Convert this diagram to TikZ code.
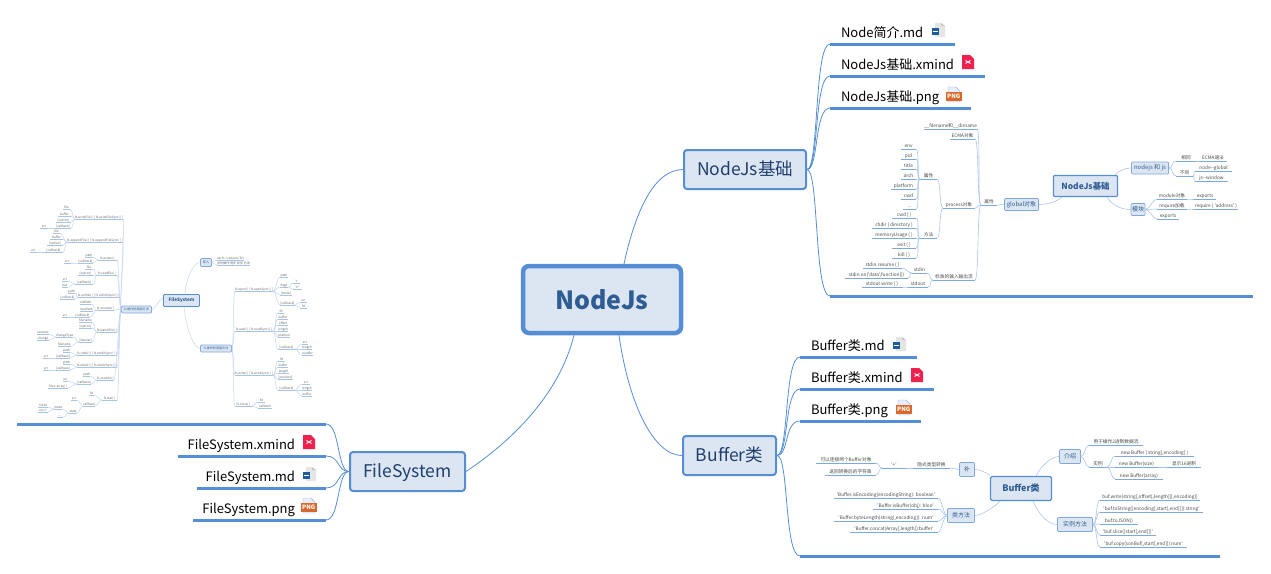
\documentclass[tikz,border=0pt]{standalone}
\usepackage{fontspec}
\newfontfamily\nodefont{Noto Sans CJK SC}
\newcommand{\fsz}[1]{\nodefont\fontsize{#1}{#1}\selectfont}
\newcommand{\tdots}{.{}.{}.}
\definecolor{mapblue}{HTML}{558ED5}
\definecolor{mapfill}{HTML}{DCE6F2}
\definecolor{boxtext}{HTML}{1F3F6E}
\definecolor{roottext}{HTML}{2F5C92}
\definecolor{inline}{HTML}{7FA8DC}
\definecolor{inlink}{HTML}{A9C5EA}
\definecolor{fsline}{HTML}{A6C3E8}
\definecolor{fslink}{HTML}{C3D6F0}
\definecolor{mdblue}{HTML}{1B5E9E}
\definecolor{xmindred}{HTML}{F0204F}
\definecolor{pngorange}{HTML}{D9682A}
\definecolor{pngpage}{HTML}{E6EFF9}
\tikzset{
  bigbox/.style={draw=mapblue, fill=mapfill, rounded corners=3pt, line width=2pt, inner sep=0pt, text=boxtext, font=\fsz{17.5}, text height=16pt, text depth=4pt, minimum height=39pt},
  rootbox/.style={draw=mapblue, fill=mapfill, line width=4.5pt, rounded corners=6pt, inner sep=0pt, text=roottext, font=\fsz{25}\bfseries},
  inroot/.style={draw=mapblue, fill=mapfill, rounded corners=1pt, line width=1.1pt, inner sep=0pt, text=roottext, font=\fsz{8.4}\bfseries},
  inbox/.style={draw=inline, fill=mapfill, rounded corners=1pt, line width=.7pt, inner sep=0pt, text=roottext, font=\fsz{6}},
  bigleaf/.style={anchor=south west, inner xsep=0pt, inner ysep=2.5pt, outer sep=0pt, text depth=4pt, font=\fsz{13}, text=black,
    append after command={(\tikzlastnode.south west) edge[mapblue, line width=3pt] (\tikzlastnode.south east)}},
  leaf/.style={anchor=south west, inner xsep=0pt, inner ysep=.6pt, outer sep=0pt, text depth=1pt, font=\fsz{4.7}, text=black!72,
    append after command={(\tikzlastnode.south west) edge[inline, line width=.9pt] (\tikzlastnode.south east)}},
  fsleaf/.style={anchor=south west, inner xsep=0pt, inner ysep=.4pt, outer sep=0pt, text depth=.6pt, font=\fsz{3.1}, text=black!62,
    append after command={(\tikzlastnode.south west) edge[fsline, line width=.7pt] (\tikzlastnode.south east)}},
  biglink/.style={mapblue, line width=.8pt},
  link/.style={inlink, line width=.6pt},
  fslinked/.style={fslink, line width=.5pt},
  mdicon/.pic={
    \fill[black!10] (4,0) -- (10,0) -- (14,3) -- (14,14) -- (4,14) -- cycle;
    \fill[black!22] (10,0) -- (14,3) -- (10,3) -- cycle;
    \fill[mdblue] (.7,5) rectangle (8,12);
    \fill[white] (2.2,7.5) rectangle (6.5,9);
  },
  xmindicon/.pic={
    \fill[xmindred] (0,0) -- (8,0) -- (12,4) -- (12,14) -- (0,14) -- cycle;
    \draw[white, line width=.9pt] (3.5,5.5) -- (8.5,8.5) (8.5,5.5) -- (3.5,8.5);
  },
  pngicon/.pic={
    \fill[pngpage] (2,0) -- (10,0) -- (14,4) -- (14,15) -- (2,15) -- cycle;
    \draw[blue!35, line width=.4pt] (2,0) -- (10,0) -- (14,4) -- (14,15) -- (2,15) -- cycle;
    \fill[pngorange] (0,5) rectangle (15.5,13.5);
    \node[inner sep=0pt, text=white, font=\fsz{6}\bfseries] (pnglabel) at (7.7,9.2) {PNG};
  },
}

\begin{document}
\begin{tikzpicture}[x=1pt, y=-1pt]
  \useasboundingbox (0,0) rectangle (1271,573);

  \node[rootbox, minimum width=158pt, minimum height=67pt] (root) at (602,299.5) {NodeJs};
  \node[bigbox, minimum width=122pt] (ndbase) at (745,169.5) {NodeJs基础};
  \node[bigbox, minimum width=93pt] (bufbase) at (729.5,455.5) {Buffer类};
  \node[bigbox, minimum width=115pt] (fsbase) at (407.5,471.5) {FileSystem};

  \node[bigleaf, text width=125pt] (ndmd) at (830,44) {\hspace*{11pt}Node简介.md};
  \node[bigleaf, text width=155pt] (ndxmind) at (830,76) {\hspace*{11pt}NodeJs基础.xmind};
  \node[bigleaf, text width=141pt] (ndpng) at (830,108) {\hspace*{11pt}NodeJs基础.png};
  \node[bigleaf, minimum width=423pt] (ndmap) at (830,296) {};
  \node[bigleaf, text width=117pt] (bufmd) at (800,357) {\hspace*{11pt}Buffer类.md};
  \node[bigleaf, text width=134pt] (bufxmind) at (800,389) {\hspace*{11pt}Buffer类.xmind};
  \node[bigleaf, text width=121pt] (bufpng) at (800,421) {\hspace*{11pt}Buffer类.png};
  \node[bigleaf, minimum width=420pt] (bufmap) at (800,556) {};
  \node[bigleaf, minimum width=309pt] (fsmap) at (17,424) {};
  \node[bigleaf, text width=148pt, align=right] (fsxmind) at (178,456) {FileSystem.xmind\hspace*{31pt}};
  \node[bigleaf, text width=129pt, align=right] (fsmd) at (197,488) {FileSystem.md\hspace*{31pt}};
  \node[bigleaf, text width=133pt, align=right] (fspng) at (193,520) {FileSystem.png\hspace*{31pt}};

  \pic at (931,23) {mdicon};
  \pic at (962,55) {xmindicon};
  \pic at (946,87) {pngicon};
  \pic at (892,337) {mdicon};
  \pic at (911,368) {xmindicon};
  \pic at (896,400) {pngicon};
  \pic at (303,435) {xmindicon};
  \pic at (302,467) {mdicon};
  \pic at (301,498) {pngicon};

  \draw[biglink] ([xshift=22pt]root.north) .. controls +(12,-55) and +(-28,0) .. (ndbase.west);
  \draw[biglink] ([xshift=17pt]root.south) .. controls +(10,70) and +(-28,0) .. (bufbase.west);
  \draw[biglink] ([xshift=-28pt]root.south) .. controls +(-15,60) and +(45,-30) .. (fsbase.east);
  \foreach \a/\b in {ndbase/ndmd, ndbase/ndxmind, ndbase/ndpng, ndbase/ndmap, bufbase/bufmd, bufbase/bufxmind, bufbase/bufpng, bufbase/bufmap}
    \draw[biglink] (\a.east) .. controls +(12,0) and +(-16,0) .. (\b.south west);
  \foreach \b in {fsmap, fsxmind, fsmd, fspng}
    \draw[biglink] (fsbase.west) .. controls +(-12,0) and +(14,0) .. (\b.south east);

  % nodejs
  \node[inroot, minimum width=64pt, minimum height=21pt] (ndroot) at (1085.5,186) {NodeJs基础};
  \node[inbox, minimum width=37pt, minimum height=12pt] (ndjs) at (1150,168) {nodejs 和 js};
  \node[inbox, minimum width=14pt, minimum height=12pt] (ndmod) at (1138,209.5) {模块};
  \node[inbox, minimum width=34pt, minimum height=12pt] (ndglobal) at (1021.5,204.5) {global对象};
  \foreach \n/\xa/\xb/\y/\txt in {
    ndsame/1176/1196/161/相同, ndecma/1199/1227/161/ECMA语法, nddiff/1176/1193/176/不同,
    ndnode/1195/1232/171/node--global, ndwin/1195/1228/181/js--window,
    ndmodobj/1157/1187/199/module对象, ndexp/1194/1216/199/exports,
    ndreq/1157/1187/209/require加载, ndaddr/1194/1238/209/{require ( 'address' )}, ndexpb/1157/1179/219/exports,
    ndattr/981/997/205/属性, ndfile/924/975/129/{\_\_filename和\_\_dirname}, ndecmaobj/950/975/139/ECMA对象,
    ndproc/943/975/208/process对象, ndstd/933/975/280/标准的输入输出流,
    ndpattr/920/937/179/属性, ndpmeth/920/937/238/方法,
    ndenv/901/916/149/env, ndpid/901/916/159/pid, ndtitle/901/916/169/title, ndarch/901/916/179/arch,
    ndplat/891/916/189/platform, ndcwd/901/916/199/cwd, nddots/903/916/209/\tdots,
    ndcwdf/892/916/218/{cwd ( )}, ndchdir/872/916/228/{chdir ( directory )}, ndmem/872/916/238/{memoryUsage ( )},
    ndexit/892/916/248/{exit ( )}, ndkill/892/916/258/{kill ( )},
    ndstdin/912/927/273/stdin, ndstdout/908/928/287/stdout,
    ndresume/863/902/268/{stdin.resume ( )}, ndon/845/908/278/{stdin.on('data',function(){})}, ndwrite/862/902/287/{stdout.write ( )}
  }{
    \node[leaf, minimum width={(\xb-\xa)*1pt}] (\n) at (\xa,\y) {\txt};
  }
  \draw[link] ([xshift=29.5pt]ndroot.north) .. controls +(5,-5) and +(-6,0) .. (ndjs.west);
  \draw[link] ([xshift=21.5pt]ndroot.south) .. controls +(5,8) and +(-10,0) .. (ndmod.west);
  \draw[link] ([xshift=-23.5pt]ndroot.south) .. controls +(-6,5) and +(8,0) .. (ndglobal.east);
  \foreach \a/\b in {ndjs/ndsame, ndjs/nddiff, ndmod/ndmodobj, ndmod/ndreq, ndmod/ndexpb}
    \draw[link] (\a.east) .. controls +(4,0) and +(-4,0) .. (\b.south west);
  \foreach \a/\b in {ndsame/ndecma, nddiff/ndnode, nddiff/ndwin, ndmodobj/ndexp, ndreq/ndaddr}
    \draw[link] (\a.south east) .. controls +(2,0) and +(-2,0) .. (\b.south west);
  \draw[link] (ndglobal.west) .. controls +(-3,0) and +(3,0) .. (ndattr.south east);
  \foreach \a/\b in {ndattr/ndfile, ndattr/ndecmaobj, ndattr/ndproc, ndattr/ndstd, ndproc/ndpattr, ndproc/ndpmeth,
    ndpattr/ndenv, ndpattr/ndpid, ndpattr/ndtitle, ndpattr/ndarch, ndpattr/ndplat, ndpattr/ndcwd, ndpattr/nddots,
    ndpmeth/ndcwdf, ndpmeth/ndchdir, ndpmeth/ndmem, ndpmeth/ndexit, ndpmeth/ndkill,
    ndstd/ndstdin, ndstd/ndstdout, ndstdin/ndresume, ndstdin/ndon, ndstdout/ndwrite}
    \draw[link] (\a.south west) .. controls +(-4,0) and +(4,0) .. (\b.south east);

  % buffer
  \node[inroot, minimum width=61pt, minimum height=24pt, rounded corners=1.5pt, font=\fsz{9}\bfseries] (bufroot) at (1021,488.5) {Buffer类};
  \node[inbox, minimum width=21pt, minimum height=14pt] (bufintro) at (1070,456.5) {介绍};
  \node[inbox, minimum width=35pt, minimum height=14pt] (bufinst) at (1075,524.5) {实例方法};
  \node[inbox, minimum width=15pt, minimum height=14pt] (bufplus) at (967,469.5) {补};
  \node[inbox, minimum width=27pt, minimum height=14pt] (bufcls) at (961,515.5) {类方法};
  \foreach \n/\xa/\xb/\y/\txt in {
    bufuse/1089/1143/445/用于操作2进制数据流, bufeg/1089/1107/467/实例,
    bufnewa/1115/1194/456/{new Buffer ( string[,encoding] )}, bufnewb/1115/1158/467/new Buffer(size),
    bufhex/1167/1201/467/显示16进制, bufnewc/1115/1163/479/new Buffer(array),
    bufwr/1100/1200/500/{buf.write(string[,offset[,length]][,encoding])},
    bufstr/1100/1203/512/{'buf.toString([encoding[,start[,end]]]):string'},
    bufjson/1100/1138/524/buf.toJSON(), bufsl/1100/1156/535/{'buf.slice([start[,end]])'},
    bufcp/1100/1187/547/{'buf.copy(sonBuf[,start[,end]]):num'},
    bufimp/913/950/468/隐式类型转换, bufadd/882/906/468/{'+'},
    bufcon/816/876/463/可以连接两个Buffer对象, bufret/825/876/475/返回转换后的字符串,
    bufisen/834/938/498/{'Buffer.isEncoding(encodingString): boolean'}, bufisbf/873/938/509/{'Buffer.isBuffer(obj): bloo'},
    bufblen/834/938/521/{'Buffer.byteLength(string[,encoding]): num'}, bufcct/850/938/532/{'Buffer.concat(Array[,length]):buffer'}
  }{
    \node[leaf, minimum width={(\xb-\xa)*1pt}] (\n) at (\xa,\y) {\txt};
  }
  \draw[link] ([xshift=15pt]bufroot.north) .. controls +(5,-10) and +(-8,0) .. (bufintro.west);
  \draw[link] ([xshift=12pt]bufroot.south) .. controls +(5,12) and +(-10,0) .. (bufinst.west);
  \draw[link] ([xshift=-31pt]bufroot.north) .. controls +(-4,-4) and +(5,0) .. (bufplus.east);
  \draw[link] ([xshift=-21pt]bufroot.south) .. controls +(-5,6) and +(6,0) .. (bufcls.east);
  \foreach \a/\b in {bufintro/bufuse, bufintro/bufeg, bufinst/bufwr, bufinst/bufstr, bufinst/bufjson, bufinst/bufsl, bufinst/bufcp}
    \draw[link] (\a.east) .. controls +(4,0) and +(-4,0) .. (\b.south west);
  \foreach \a/\b in {bufeg/bufnewa, bufeg/bufnewb, bufeg/bufnewc, bufnewb/bufhex}
    \draw[link] (\a.south east) .. controls +(4,0) and +(-4,0) .. (\b.south west);
  \draw[link] (bufplus.west) .. controls +(-2,0) and +(2,0) .. (bufimp.south east);
  \draw[link] (bufimp.south west) -- (bufadd.south east);
  \foreach \b in {bufcon, bufret}
    \draw[link] (bufadd.south west) .. controls +(-3,0) and +(3,0) .. (\b.south east);
  \foreach \b in {bufisen, bufisbf, bufblen, bufcct}
    \draw[link] (bufcls.west) .. controls +(-4,0) and +(4,0) .. (\b.south east);

  % filesystem
  \node[inroot, minimum width=36pt, minimum height=12pt, line width=.9pt, font=\fsz{4.6}\bfseries] (fsroot) at (181.5,300.5) {FileSystem};
  \node[inbox, minimum width=11pt, minimum height=8pt, font=\fsz{3.2}] (fsimp) at (206,262.5) {导入};
  \node[inbox, minimum width=31pt, minimum height=7pt, font=\fsz{3.1}] (fslow) at (216,348.5) {fs 操作的底层方法};
  \node[inbox, minimum width=30pt, minimum height=7pt, font=\fsz{3.1}] (fshigh) at (136.5,309.5) {fs 操作的高层方法};
  \foreach \n/\xa/\xb/\y/\txt in {
    imva/217/243/260/{var fs = require('fs')}, imvb/217/244/265/文件操作 同步 异步 方法,
    fopen/235/272/291/{fs.open( ) [ fs.openSync( ) ]},
    opath/280/288/277/path, oflags/280/288/287/flags, orr/293/300/283/'r', orp/293/302/289/'r+',
    omode/280/292/295/[mode], ocb/280/295/305/[callback], oerr/300/307/302/err, ofd/300/307/308/fd,
    fread/235/273/331/{fs.read( ) [ fs.readSync( ) ]},
    rfd/278/284/313/fd, rbuf/278/288/319/buffer, roff/278/288/325/offset, rlen/278/288/331/length, rpos/278/289/337/position,
    rcb/278/295/349/[callback], rerr/302/308/344/err, rlenb/302/312/349/length, rstr/302/313/355/readStr,
    fwrite/235/273/375/{fs.write( ) [ fs.writeSync( ) ]},
    wfd/278/285/361/fd, wbuf/278/288/367/buffer, wlen/278/289/373/length, wpos/278/293/379/[position],
    wcb/278/295/390/[callback], werr/302/310/384/err, wlenb/302/312/390/length, wbufb/302/312/396/buffer,
    fclose/235/252/406/{fs.close( )}, cfd/258/265/402/fd, ccb/258/272/408/callback,
    gwf/75/117/219/{fs.writeFile( ) [ fs.writeFileSync( ) ]},
    gwffile/63/70/209/file, gwfbuf/58/71/216/buffer, gwfopt/56/71/222/[option], gwfcb/55/71/228/[callback], gwferr/40/48/228/err,
    gaf/67/117/242/{fs.appendFile( ) [ fs.appendFileSync( ) ]},
    gaffile/53/60/233/file, gafbuf/50/63/239/buffer, gafopt/47/63/245/[option], gafcb/44/63/252/[callback], gaferr/30/37/252/err,
    gex/98/117/260/{fs.exists( )}, gexpath/85/93/257/path, gexcb/78/93/263/[callback], gexerr/64/70/263/err,
    grf/97/117/275/{fs.readFile( )}, grffile/85/93/269/file, grfopt/78/93/275/[option], grfcb/75/93/284/[callback], grferr/62/68/281/err, grfbuf/62/68/287/buf,
    gun/78/117/297/{fs.unlink( ) [ fs.unlinkSync( ) ]}, gunpath/68/75/293/path, guncb/60/75/299/[callback],
    grn/97/114/310/{fs.rename( )}, grnold/80/90/304/oldPath, grnnew/80/90/311/newPath, grncb/75/90/317/[callback], grnerr/62/68/317/err,
    gwa/97/114/332/{fs.watchFile( )}, gwaname/79/92/322/filename, gwaopt/79/92/328/[option], gwalis/79/92/342/[listener],
    gwatype/56/69/337/changeType, gwanameb/58/69/346/filename, gwaren/37/49/334/rename, gwachg/37/49/340/change,
    grd/77/117/355/{fs.rmdir( ) [ fs.rmdirSync( ) ]}, grdpath/63/70/352/path, grdcb/56/70/358/[callback], grderr/43/49/358/err,
    gmk/77/117/367/{fs.mkdir( ) [ fs.mkdirSync( ) ]}, gmkpath/63/70/364/path, gmkcb/56/70/370/[callback], gmkerr/43/49/370/err,
    gdr/97/114/380/{fs.readdir( )}, gdrpath/83/90/376/path, gdrcb/77/90/384/[callback], gdrerr/63/68/381/err, gdrfiles/48/68/388/{files: array( )},
    gst/102/117/400/{fs.stat( )}, gstfd/89/94/395/fd, gstcb/83/94/406/callback, gsterr/71/77/400/err, gststat/69/77/413/stats,
    gstmode/54/62/409/mode, gstdots/57/63/417/\tdots, gstnum/38/48/407/{0,644}, gstrw/38/48/412/{rw,r,r}
  }{
    \node[fsleaf, minimum width={(\xb-\xa)*1pt}] (\n) at (\xa,\y) {\txt};
  }
  \draw[fslinked] ([xshift=3.5pt]fsroot.north) .. controls +(2,-20) and +(-6,0) .. (fsimp.west);
  \draw[fslinked] ([xshift=2.5pt]fsroot.south) .. controls +(2,22) and +(-6,0) .. (fslow.west);
  \draw[fslinked] ([yshift=2.5pt]fsroot.west) .. controls +(-5,2) and +(4,0) .. (fshigh.east);
  \foreach \b in {imva, imvb}
    \draw[fslinked] (fsimp.east) .. controls +(2,0) and +(-2,0) .. (\b.south west);
  \foreach \b in {fopen, fread, fwrite, fclose}
    \draw[fslinked] (fslow.east) .. controls +(2,0) and +(-2,0) .. (\b.south west);
  \foreach \a/\b in {fopen/opath, fopen/oflags, fopen/omode, fopen/ocb, oflags/orr, oflags/orp, ocb/oerr, ocb/ofd,
    fread/rfd, fread/rbuf, fread/roff, fread/rlen, fread/rpos, fread/rcb, rcb/rerr, rcb/rlenb, rcb/rstr,
    fwrite/wfd, fwrite/wbuf, fwrite/wlen, fwrite/wpos, fwrite/wcb, wcb/werr, wcb/wlenb, wcb/wbufb,
    fclose/cfd, fclose/ccb}
    \draw[fslinked] (\a.south east) .. controls +(3,0) and +(-3,0) .. (\b.south west);
  \foreach \b in {gwf, gaf, gex, grf, gun, grn, gwa, grd, gmk, gdr, gst}
    \draw[fslinked] (fshigh.west) .. controls +(-2,0) and +(2,0) .. (\b.south east);
  \foreach \a/\b in {gwf/gwffile, gwf/gwfbuf, gwf/gwfopt, gwf/gwfcb, gwfcb/gwferr,
    gaf/gaffile, gaf/gafbuf, gaf/gafopt, gaf/gafcb, gafcb/gaferr,
    gex/gexpath, gex/gexcb, gexcb/gexerr,
    grf/grffile, grf/grfopt, grf/grfcb, grfcb/grferr, grfcb/grfbuf,
    gun/gunpath, gun/guncb,
    grn/grnold, grn/grnnew, grn/grncb, grncb/grnerr,
    gwa/gwaname, gwa/gwaopt, gwa/gwalis, gwalis/gwatype, gwalis/gwanameb, gwatype/gwaren, gwatype/gwachg,
    grd/grdpath, grd/grdcb, grdcb/grderr,
    gmk/gmkpath, gmk/gmkcb, gmkcb/gmkerr,
    gdr/gdrpath, gdr/gdrcb, gdrcb/gdrerr, gdrcb/gdrfiles,
    gst/gstfd, gst/gstcb, gstcb/gsterr, gstcb/gststat, gststat/gstmode, gststat/gstdots, gstmode/gstnum, gstmode/gstrw}
    \draw[fslinked] (\a.south west) .. controls +(-3,0) and +(3,0) .. (\b.south east);
\end{tikzpicture}
\end{document}
